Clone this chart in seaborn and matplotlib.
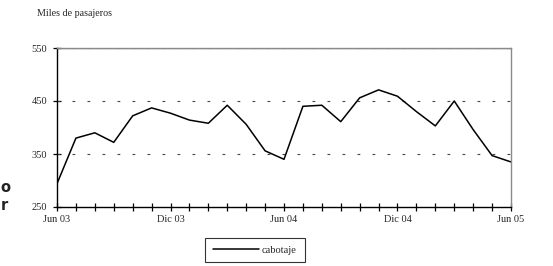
import matplotlib
matplotlib.use("Agg")
import matplotlib.pyplot as plt
import seaborn as sns
import pandas as pd

months = ["Jun 03", "Jul 03", "Ago 03", "Sep 03", "Oct 03", "Nov 03", "Dic 03",
          "Ene 04", "Feb 04", "Mar 04", "Abr 04", "May 04", "Jun 04", "Jul 04",
          "Ago 04", "Sep 04", "Oct 04", "Nov 04", "Dic 04", "Ene 05", "Feb 05",
          "Mar 05", "Abr 05", "May 05", "Jun 05"]
cabotaje = [294, 380, 390, 372, 422, 437, 427, 414, 408, 442, 406, 356, 340,
            440, 442, 411, 456, 471, 459, 430, 403, 450, 396, 347, 335]
tick_labels = ["Jun 03", "", "", "", "", "", "Dic 03", "", "", "", "", "", "Jun 04",
               "", "", "", "", "", "Dic 04", "", "", "", "", "", "Jun 05"]
yticks = [250, 350, 450, 550]

df = pd.DataFrame({"idx": range(len(months)), "mes": months, "cabotaje": cabotaje})

sns.set_style("white")
plt.rcParams["font.family"] = ["Liberation Serif", "DejaVu Serif"]

fig = plt.figure(figsize=(5.53, 2.66), dpi=100)
ax = fig.add_axes([57 / 553, 1 - 207 / 266, (511 - 57) / 553, (207 - 48) / 266])

sns.lineplot(data=df, x="idx", y="cabotaje", ax=ax, color="black", linewidth=1.1,
             label="cabotaje", legend=False)

ax.set_xlim(0, len(months) - 1)
ax.set_ylim(250, 550)
ax.set_xticks(df["idx"])
ax.set_xticklabels(tick_labels, fontsize=7.5)
ax.set_yticks(yticks)
ax.set_yticklabels([str(v) for v in yticks], fontsize=7.5)
ax.set_xlabel("")
ax.set_ylabel("")

for v in yticks[1:]:
    ax.axhline(v, color="#444444", linewidth=0.8, linestyle=(0, (2.5, 11)), zorder=1)
ax.axhline(550, color="#9a9a9a", linewidth=1.0, zorder=1)

for side in ["left", "bottom"]:
    ax.spines[side].set_color("black")
    ax.spines[side].set_linewidth(1.0)
for side in ["right", "top"]:
    ax.spines[side].set_color("#8a8a8a")
    ax.spines[side].set_linewidth(1.0)

ax.tick_params(axis="x", direction="inout", length=6, width=0.9, color="black",
               pad=3, bottom=True)
ax.tick_params(axis="y", direction="inout", length=6, width=0.9, color="black",
               pad=4, left=True)

fig.text(37 / 553, 1 - 14 / 266, "Miles de pasajeros", fontsize=7.2, va="center",
         ha="left")

leg = fig.legend(handles=ax.get_lines()[:1], labels=["cabotaje"],
                 loc="center", bbox_to_anchor=(255 / 553, 1 - 250 / 266),
                 frameon=True, fancybox=False, edgecolor="black", fontsize=7.5,
                 handlelength=4.4, borderpad=0.75, handletextpad=0.3,
                 borderaxespad=0)
leg.get_frame().set_linewidth(0.8)

fig.text(0.5 / 553, 1 - 188 / 266, "o", fontsize=10.5, fontweight="bold",
         family="DejaVu Sans", va="center", ha="left", color="#222222")
fig.text(0.5 / 553, 1 - 206 / 266, "r", fontsize=10.5, fontweight="bold",
         family="DejaVu Sans", va="center", ha="left", color="#222222")

fig.savefig("out.png", dpi=100)
